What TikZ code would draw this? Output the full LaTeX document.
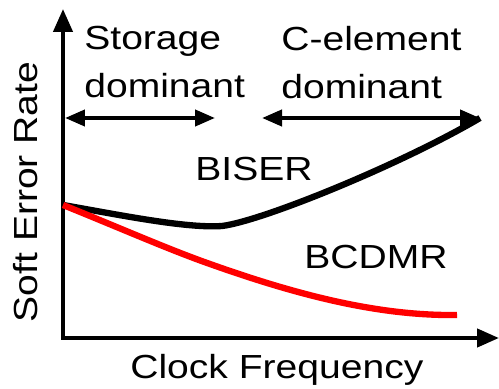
\documentclass[tikz,border=0pt]{standalone}
\usepackage{fontspec}
\setmainfont{Liberation Sans}[FakeStretch=1.17]
\usepackage{tikz}
\usetikzlibrary{arrows.meta}
\definecolor{myred}{HTML}{FF0000}

\begin{document}
\begin{tikzpicture}[
  x=0.02cm, y=-0.02cm,
  lbl/.style={inner sep=0pt, font=\fontsize{19}{27.3}\selectfont},
  axis/.style={line width=2.45pt, line join=miter,
    {Triangle[length=0.46cm, width=0.38cm]}-{Triangle[length=0.44cm, width=0.36cm]}},
  span/.style={line width=2.3pt,
    {Triangle[length=0.4cm, width=0.32cm]}-{Triangle[length=0.4cm, width=0.32cm]}},
  biser/.style={line width=3.6pt, black},
  bcdmr/.style={line width=3.6pt, myred},
]
\useasboundingbox (0,0) rectangle (499,388);

%% Axes
\coordinate (ytip) at (63,9);
\coordinate (orig) at (63,338);
\coordinate (xtip) at (499,338);
\draw[axis] (ytip) -- (orig) -- (xtip);

%% Regions
\coordinate (stL) at (65,118);
\coordinate (stR) at (215,118);
\coordinate (ceL) at (262,118);
\coordinate (ceR) at (480,118);
\draw[span] (stL) -- (stR);
\draw[span] (ceL) -- (ceR);

\node[lbl, anchor=north west, align=left] (storage) at (84,26) {Storage\\dominant};
\node[lbl, anchor=north west, align=left] (celem) at (281,26) {C-element\\dominant};

%% Curves
\coordinate (start) at (63,205);
\coordinate (bmin) at (222,226);
\coordinate (rmid) at (210,264);
\coordinate (rend) at (457,315);
\draw[biser] (start) .. controls (120,215) and (186,228.5) .. (bmin)
  .. controls (262,221) and (400,165) .. (ceR);
\draw[bcdmr] (start) .. controls (120,228) and (170,250) .. (rmid)
  .. controls (300,296) and (380,316) .. (rend);

\node[lbl, anchor=base west] (biserlbl) at (195,180) {BISER};
\node[lbl, anchor=base west] (bcdmrlbl) at (304,268) {BCDMR};

%% Axis labels
\node[lbl, anchor=base west] (xlbl) at (130,378) {Clock Frequency};
\node[lbl, anchor=base, rotate=90] (ylbl) at (37,192) {Soft Error Rate};

\end{tikzpicture}
\end{document}
